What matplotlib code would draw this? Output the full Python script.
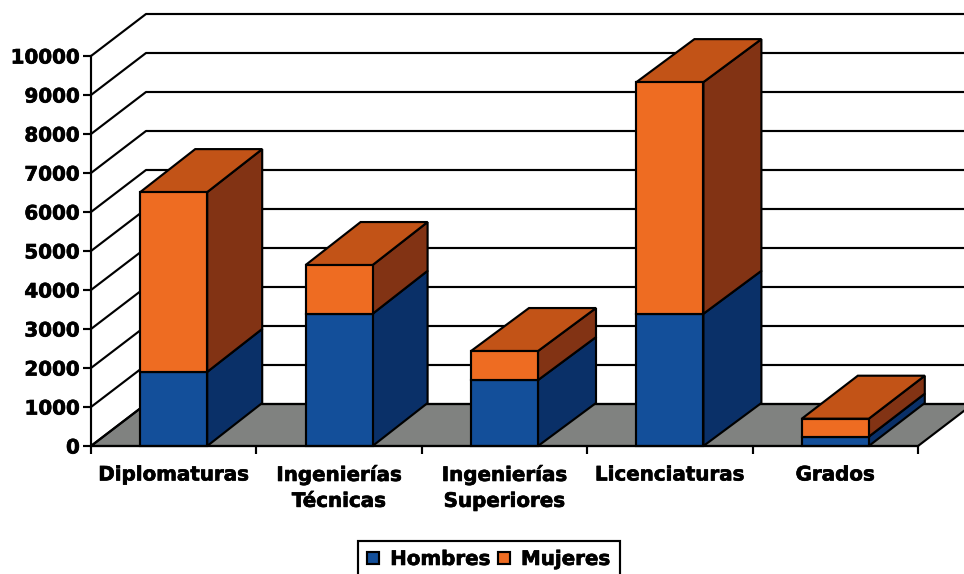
import matplotlib

matplotlib.use("Agg")

import matplotlib.pyplot as plt
import numpy as np
from matplotlib.patches import Patch
from matplotlib.patheffects import withStroke

categories = ["Diplomaturas", "Ingenierías\nTécnicas", "Ingenierías\nSuperiores", "Licenciaturas", "Grados"]
hombres = [1900, 3390, 1690, 3390, 240]
mujeres = [4610, 1250, 745, 5940, 460]
y_ticks = [0, 1000, 2000, 3000, 4000, 5000, 6000, 7000, 8000, 9000, 10000]

W, H = 964, 574
SLOT_PX = 165.4
PX_PER_UNIT = 0.039
DEPTH_X = 55 / SLOT_PX
DEPTH_Y = 42 / PX_PER_UNIT
# the source chart rounds each bar's depth on its own
bar_depth_px = [55, 55, 58, 58, 56]
BAR_DEPTH_Y = 43 / PX_PER_UNIT
BAR_W = 0.405
LW = 1.55
BLUE = ("#134F9A", "#0A3068")
ORANGE = ("#EE6C22", "#823314", "#C25317")

plt.rcParams["font.family"] = "DejaVu Sans"
plt.rcParams["font.weight"] = "bold"
plt.rcParams["font.size"] = 14.3

fig = plt.figure(figsize=(W / 100, H / 100), dpi=100)
ax = fig.add_axes([91 / W, 1 - 446 / H, 827 / W, 390 / H])
ax.set_xlim(0, 5)
ax.set_ylim(0, 10000)
ax.patch.set_visible(False)

# floor and back wall
ax.fill(
    [0, DEPTH_X, 5 + DEPTH_X, 5],
    [0, DEPTH_Y, DEPTH_Y, 0],
    facecolor="#808280",
    edgecolor="black",
    lw=LW,
    clip_on=False,
    zorder=1,
)
for v in y_ticks:
    ax.plot(
        [0, DEPTH_X, 5 + DEPTH_X],
        [v, v + DEPTH_Y, v + DEPTH_Y],
        color="black",
        lw=LW,
        clip_on=False,
        zorder=2,
    )


def draw_block(x, y0, y1, depth, front, side, top=None):
    left, right = x - BAR_W / 2, x + BAR_W / 2
    style = dict(edgecolor="black", lw=LW, clip_on=False, zorder=3, joinstyle="miter")
    ax.fill(
        [right, right + depth, right + depth, right],
        [y0, y0 + BAR_DEPTH_Y, y1 + BAR_DEPTH_Y, y1],
        facecolor=side,
        **style,
    )
    if top:
        ax.fill(
            [left, left + depth, right + depth, right],
            [y1, y1 + BAR_DEPTH_Y, y1 + BAR_DEPTH_Y, y1],
            facecolor=top,
            **style,
        )
    ax.bar(x, y1 - y0, BAR_W, bottom=y0, color=front, edgecolor="black", lw=LW, clip_on=False, zorder=3)


centers = np.arange(len(categories)) + 0.5
for x, h, m, d in zip(centers, hombres, mujeres, bar_depth_px):
    draw_block(x, 0, h, d / SLOT_PX, BLUE[0], BLUE[1])
    draw_block(x, h, h + m, d / SLOT_PX, ORANGE[0], ORANGE[1], ORANGE[2])

for name in ("top", "right"):
    ax.spines[name].set_visible(False)
for name in ("left", "bottom"):
    ax.spines[name].set_linewidth(LW)
    ax.spines[name].set_zorder(10)

ax.set_yticks(y_ticks)
ax.tick_params(axis="y", length=6, width=LW, pad=2)
ax.set_xticks(range(6), labels=[""] * 6)
ax.tick_params(axis="x", which="major", length=6, width=LW)
ax.set_xticks(centers, labels=categories, minor=True, linespacing=1.46)
ax.tick_params(axis="x", which="minor", length=0, pad=14)

handles = [
    Patch(facecolor=BLUE[0], edgecolor="black", lw=LW, label="Hombres"),
    Patch(facecolor=ORANGE[0], edgecolor="black", lw=LW, label="Mujeres"),
]
leg = fig.legend(
    handles=handles,
    loc="upper left",
    bbox_to_anchor=(358 / W, 1 - 541 / H),
    ncol=2,
    frameon=True,
    fancybox=False,
    edgecolor="black",
    framealpha=1,
    borderaxespad=0,
    borderpad=0.45,
    handlelength=0.62,
    handleheight=0.62,
    handletextpad=0.55,
    columnspacing=0.35,
)
leg.get_frame().set_linewidth(LW)

# the source font is heavier than DejaVu Bold
heavy = [withStroke(linewidth=0.5, foreground="black")]
texts = ax.get_yticklabels() + ax.get_xticklabels(minor=True) + leg.get_texts()
for t in texts:
    t.set_path_effects(heavy)

fig.savefig("out.png", dpi=100)
